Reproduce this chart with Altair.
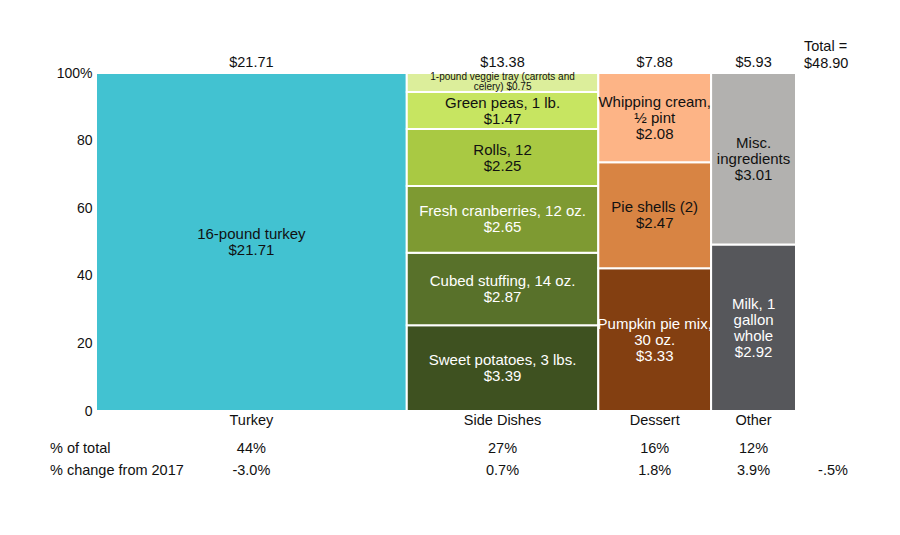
import altair as alt
import pandas as pd

categories = ["Turkey", "Side Dishes", "Dessert", "Other"]
cat_totals = ["$21.71", "$13.38", "$7.88", "$5.93"]
pct_total = ["44%", "27%", "16%", "12%"]
pct_change = ["-3.0%", "0.7%", "1.8%", "3.9%"]

item_cat = ["Turkey",
            "Side Dishes", "Side Dishes", "Side Dishes", "Side Dishes", "Side Dishes", "Side Dishes",
            "Dessert", "Dessert", "Dessert",
            "Other", "Other"]
item_label = ["16-pound turkey\n$21.71",
              "Sweet potatoes, 3 lbs.\n$3.39", "Cubed stuffing, 14 oz.\n$2.87",
              "Fresh cranberries, 12 oz.\n$2.65", "Rolls, 12\n$2.25", "Green peas, 1 lb.\n$1.47",
              "1-pound veggie tray (carrots and\ncelery) $0.75",
              "Pumpkin pie mix,\n30 oz.\n$3.33", "Pie shells (2)\n$2.47", "Whipping cream,\n½ pint\n$2.08",
              "Milk, 1\ngallon\nwhole\n$2.92", "Misc.\ningredients\n$3.01"]
item_value = [21.71, 3.39, 2.87, 2.65, 2.25, 1.47, 0.75, 3.33, 2.47, 2.08, 2.92, 3.01]
item_color = ["#42C2D1",
              "#3E5120", "#58712A", "#7E9A32", "#A9C943", "#C7E561", "#DCEE9B",
              "#833F11", "#D88443", "#FDB486",
              "#56575B", "#B2B1AF"]
item_text = ["#111111",
             "#ffffff", "#ffffff", "#ffffff", "#111111", "#111111", "#111111",
             "#ffffff", "#111111", "#111111",
             "#ffffff", "#111111"]
grand_total = "Total =\n$48.90"
total_change = "-.5%"

# build table
rows = []
x_start = 0.0
cat_rows = []
for c, ct, pt, pc in zip(categories, cat_totals, pct_total, pct_change):
    vals = [v for ic, v in zip(item_cat, item_value) if ic == c]
    tot = sum(vals)
    y = 0.0
    for ic, lab, v, col, tc in zip(item_cat, item_label, item_value, item_color, item_text):
        if ic != c:
            continue
        y1 = y + v / tot * 100
        rows.append(dict(cat=c, label=lab, x0=x_start, x1=x_start + tot, y0=y, y1=y1,
                         xm=x_start + tot / 2, ym=(y + y1) / 2, fill=col, tcol=tc,
                         small=lab.startswith("1-pound"), nl=lab.count("\n") + 1))
        y = y1
    cat_rows.append(dict(cat=c, total=ct, pt=pt, pc=pc, xm=x_start + tot / 2))
    x_start += tot

df = pd.DataFrame(rows)
cdf = pd.DataFrame(cat_rows)
XMAX = x_start

xs = alt.Scale(domain=[0, XMAX], nice=False, zero=False)
ys = alt.Scale(domain=[0, 100], nice=False)
FONT = "Liberation Sans"
TXT = "#111111"

base = alt.Chart(df)
rects = base.mark_rect(stroke="white", strokeWidth=2).encode(
    x=alt.X("x0:Q", scale=xs, axis=None),
    x2="x1:Q",
    y=alt.Y("y0:Q", scale=ys, axis=alt.Axis(values=[0, 20, 40, 60, 80, 100],
                                           labelExpr="datum.value == 100 ? '100%' : datum.value",
                                           title=None, grid=False, ticks=False, domain=False,
                                           labelFont=FONT, labelFontSize=14, labelColor=TXT,
                                           labelPadding=4)),
    y2="y1:Q",
    color=alt.Color("fill:N", scale=None),
)

LH = 16
label_layers = []
for n in [2, 3, 4]:
    label_layers.append(
        base.transform_filter(f"!datum.small && datum.nl == {n}").mark_text(
            font=FONT, fontSize=15, lineBreak="\n", lineHeight=LH, align="center",
            baseline="middle", dy=-(n - 1) * LH / 2
        ).encode(x=alt.X("xm:Q", scale=xs), y=alt.Y("ym:Q", scale=ys), text="label:N",
                 color=alt.Color("tcol:N", scale=None))
    )

small = base.transform_filter("datum.small").mark_text(
    font=FONT, fontSize=10, lineBreak="\n", lineHeight=10, align="center", baseline="middle",
    dy=-5
).encode(x=alt.X("xm:Q", scale=xs), y=alt.Y("ym:Q", scale=ys), text="label:N",
         color=alt.Color("tcol:N", scale=None))

cbase = alt.Chart(cdf)
def row(field, ypix):
    return cbase.mark_text(font=FONT, fontSize=14.5, color=TXT, baseline="middle").encode(
        x=alt.X("xm:Q", scale=xs), y=alt.value(ypix), text=f"{field}:N")

tops = row("total", -10)
names = row("cat", 348)
pts = row("pt", 376)
pcs = row("pc", 398)

hdr = pd.DataFrame({"t": ["% of total", "% change from 2017"], "yy": [376, 398]})
heads = alt.Chart(hdr).mark_text(font=FONT, fontSize=14.5, color=TXT, align="left",
                                 baseline="middle").encode(
    x=alt.value(-46), y=alt.Y("yy:Q", scale=None), text="t:N")

tot_df = pd.DataFrame({"t": [grand_total], "c": [total_change]})
tot_txt = alt.Chart(tot_df).mark_text(font=FONT, fontSize=14.5, color=TXT, align="left",
                                      baseline="middle", lineBreak="\n", lineHeight=17).encode(
    x=alt.value(708), y=alt.value(-26), text="t:N")
tot_chg = alt.Chart(tot_df).mark_text(font=FONT, fontSize=14.5, color=TXT, align="center",
                                      baseline="middle").encode(
    x=alt.value(737), y=alt.value(398), text="c:N")

chart = alt.layer(rects, *label_layers, small, tops, names, pts, pcs, heads, tot_txt,
                  tot_chg).properties(
    width=700, height=338,
    autosize=alt.AutoSizeParams(type="none"),
    padding={"left": 88, "top": 65, "right": 96, "bottom": 110},
    background="white",
).configure_view(stroke=None)

chart.save("out.html", embed_options={"renderer": "svg", "actions": False})
